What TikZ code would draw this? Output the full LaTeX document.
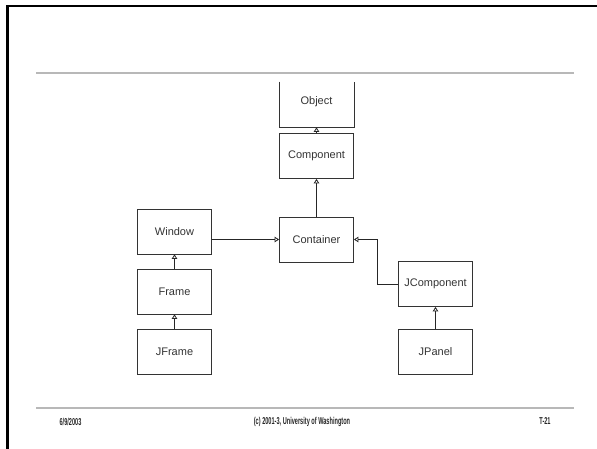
\documentclass[tikz,border=0pt]{standalone}
\usepackage{fontspec}
\setmainfont{Liberation Sans}
\newfontfamily\footfont[FakeStretch=0.56]{Liberation Sans Bold}
\usetikzlibrary{arrows.meta}
\begin{document}
\begin{tikzpicture}[x=1pt,y=-1pt,
  boxline/.style={draw=black!80, line width=0.8pt},
  cls/.style={boxline, minimum width=74pt, minimum height=45pt, inner sep=0pt, text=black!80, font=\fontsize{11}{13}\selectfont},
  gen/.style={draw=black!85, line width=0.8pt, -{Triangle[open,length=4.5pt,width=5.5pt]}},
  rule/.style={draw=black!28, line width=2pt},
  foot/.style={font=\footfont\fontsize{10}{12}\selectfont, inner sep=0pt, text=black!85}]
\useasboundingbox (0,0) rectangle (597,449);
% frame border
\draw[line width=2.4pt] (7.5,449) -- (7.5,6) -- (597,6);
\draw[rule] (36,73) -- (574,73);
\draw[rule] (36,408) -- (574,408);
% classes
\node[cls, draw=none, minimum height=45pt] (object) at (316.5,104.5) {};
\node[text=black!80, font=\fontsize{11}{13}\selectfont, inner sep=0pt] (objlabel) at (316.5,102) {Object};
\draw[boxline] (object.north west) -- (object.south west) -- (object.south east) -- (object.north east);
\node[cls] (component) at (316.5,156) {Component};
\node[cls] (container) at (316.5,239.5) {Container};
\node[cls] (window) at (174.5,231.5) {Window};
\node[cls] (frame) at (174.5,291.5) {Frame};
\node[cls] (jframe) at (174.5,351.5) {JFrame};
\node[cls] (jcomponent) at (435.5,284) {JComponent};
\node[cls] (jpanel) at (435.5,351.5) {JPanel};
% connectors
\draw[gen] (component.north) -- (object.south);
\draw[gen] (container.north) -- (component.south);
\draw[gen] (window.east |- container.west) -- (container.west);
\draw[gen] (frame.north) -- (window.south);
\draw[gen] (jframe.north) -- (frame.south);
\draw[gen] (jpanel.north) -- (jcomponent.south);
\coordinate (bend) at (377.5,284);
\draw[gen] (jcomponent.west) -- (bend) -- (bend |- container.east) -- (container.east);
% footer
\node[foot] (date) at (70.5,421.5) {6/9/2003};
\node[foot] (copy) at (302,421.5) {(c) 2001-3, University of Washington};
\node[foot] (page) at (545,421.5) {T-21};
\end{tikzpicture}
\end{document}
